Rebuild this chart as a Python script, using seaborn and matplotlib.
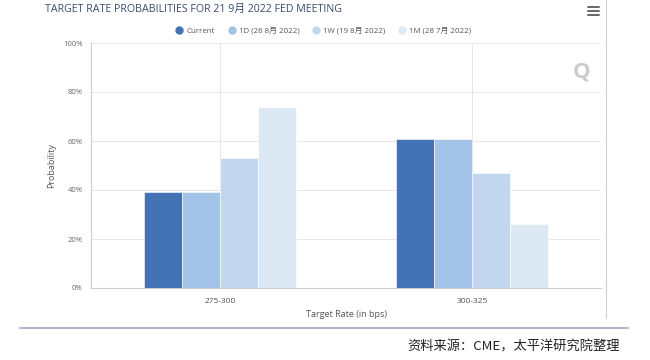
import matplotlib
matplotlib.use("Agg")
import matplotlib.pyplot as plt
import seaborn as sns
import pandas as pd
from matplotlib.lines import Line2D

categories = ["275-300", "300-325"]
series = ["Current", "1D (26 8月 2022)", "1W (19 8月 2022)", "1M (28 7月 2022)"]
current = [39, 61]
d1 = [39, 61]
w1 = [53, 47]
m1 = [74, 26]
colors = ["#4473b5", "#a3c3e8", "#c3d6ef", "#dde8f5"]
yticks = [0, 20, 40, 60, 80, 100]
ytick_labels = ["0%", "20%", "40%", "60%", "80%", "100%"]

rows = []
for s, vals in zip(series, [current, d1, w1, m1]):
    for c, v in zip(categories, vals):
        rows.append({"Target Rate": c, "Series": s, "Probability": v})
df = pd.DataFrame(rows)

sns.set_theme(style="white")
plt.rcParams['font.family'] = ['Open Sans', 'Noto Sans CJK SC', 'DejaVu Sans']

fig = plt.figure(figsize=(6.5, 3.6), dpi=100)
ax = fig.add_axes([91/650, 1 - 288/360, (601-91)/650, (288-43)/360])

sns.barplot(data=df, x="Target Rate", y="Probability", hue="Series",
            hue_order=series, palette=colors, width=0.6, ax=ax,
            saturation=1, edgecolor="white", linewidth=0.4, legend=False)

ax.set_xlim(-0.512, 1.512)
ax.set_ylim(0, 100)
ax.set_yticks(yticks)
ax.set_yticklabels(ytick_labels)
ax.set_xticks([0, 1])
ax.set_xticklabels(categories)
ax.tick_params(axis='y', labelsize=5.5, colors="#666666", length=4, width=0.6, color="#cccccc", pad=2)
ax.tick_params(axis='x', labelsize=6, colors="#555555", length=4, width=0.6, color="#cccccc", pad=3)
ax.yaxis.grid(True, color="#e6e6e6", linewidth=0.7)
ax.xaxis.grid(True, color="#e6e6e6", linewidth=0.7)
ax.set_axisbelow(True)
for side in ["top", "right"]:
    ax.spines[side].set_visible(False)
ax.spines["left"].set_color("#cccccc")
ax.spines["left"].set_linewidth(0.8)
ax.spines["bottom"].set_color("#cccccc")
ax.spines["bottom"].set_linewidth(0.8)
ax.set_xlabel("Target Rate (in bps)", fontsize=6.5, color="#555555", labelpad=4)
ax.set_ylabel("Probability", fontsize=6.5, color="#555555", labelpad=5)

fig.text(45/650, 1 - 9/360, "TARGET RATE PROBABILITIES FOR 21 9月 2022 FED MEETING",
         fontsize=7.7, color="#3b4a6e", va="center", ha="left")

handles = [Line2D([0], [0], marker='o', linestyle='', markersize=5,
                  markerfacecolor=c, markeredgecolor=c) for c in colors]
fig.legend(handles, series, loc="center", bbox_to_anchor=(323/650, 1 - 31/360),
           ncol=4, frameon=False, fontsize=5.7, handletextpad=0.3, columnspacing=1.5,
           handlelength=1.2, labelcolor="#555555")

# menu icon
for dy in (7, 11, 15):
    fig.add_artist(Line2D([588/650, 599/650], [1 - dy/360, 1 - dy/360],
                          color="#666666", linewidth=1.4))
# watermark
fig.text(582/650, 1 - 72/360, "Q", fontsize=16, fontweight="bold", color="#cccccc",
         ha="center", va="center")

# frame lines
fig.add_artist(Line2D([606/650, 606/650], [1 - 0/360, 1 - 318/360], color="#d0d0d0", linewidth=0.8))
fig.add_artist(Line2D([20/650, 628/650], [1 - 328/360, 1 - 328/360], color="#b4b6d0", linewidth=1.5))

fig.text(620/650, 1 - 347/360, "资料来源：CME，太平洋研究院整理", fontsize=9.5,
         family=['Noto Sans CJK SC', 'DejaVu Sans'], style="italic",
         color="#222222", ha="right", va="center")

fig.savefig("out.png", dpi=100, facecolor="white")
